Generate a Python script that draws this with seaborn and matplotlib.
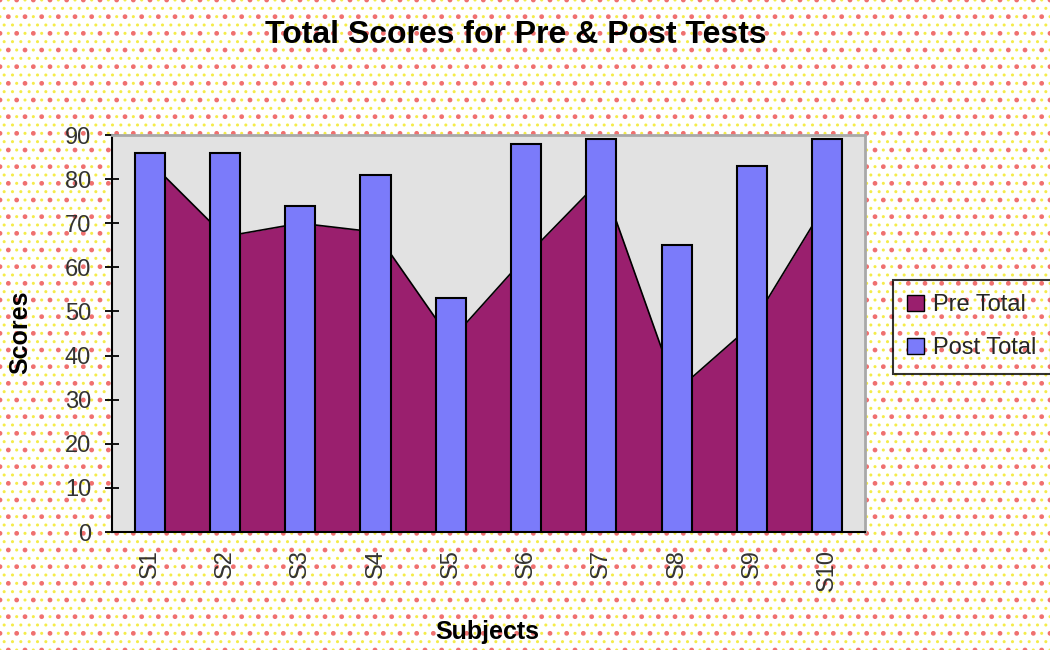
import numpy as np
import pandas as pd
import matplotlib
matplotlib.use('Agg')
import matplotlib.pyplot as plt
import seaborn as sns
from matplotlib.patches import Patch, Rectangle

subjects = ['S1', 'S2', 'S3', 'S4', 'S5', 'S6', 'S7', 'S8', 'S9', 'S10']
pre_total = [84, 67, 70, 68, 43.5, 62.5, 80, 32, 47, 75]
post_total = [86, 86, 74, 81, 53, 88, 89, 65, 83, 89]
y_ticks = [0, 10, 20, 30, 40, 50, 60, 70, 80, 90]

sns.set_theme(style='white')
plt.rcParams['font.family'] = ['Liberation Sans', 'DejaVu Sans']
plt.rcParams['hatch.linewidth'] = 1.0

fig = plt.figure(figsize=(10.5, 6.5), dpi=100)
fig.patch.set_facecolor('white')
fig.patch.set_hatch('..')
fig.patch.set_edgecolor('#f4ec4a')
fig.patches.append(Rectangle((0, 0), 1, 1, transform=fig.transFigure,
                             facecolor='none', edgecolor='#f07070',
                             hatch='.', linewidth=0, zorder=-5))

ax = fig.add_axes([0.1067, 0.1815, 0.717, 0.6108])
ax.set_zorder(1)
ax.set_facecolor('#e2e2e2')

df = pd.DataFrame({'Subject': subjects, 'Post Total': post_total})
sns.barplot(data=df, x='Subject', y='Post Total', ax=ax, color='#7b7bfa',
            saturation=1, width=0.4, edgecolor='black', linewidth=1.5, zorder=4)

x = np.arange(len(subjects))
ax.fill_between(x, pre_total, color='#9a1f6e', zorder=2, linewidth=0)
sns.lineplot(x=x, y=pre_total, ax=ax, color='black', linewidth=1.2, zorder=3)

ax.set_xlim(-0.5, len(subjects) - 0.5)
ax.set_ylim(0, 90)
ax.set_xticks(np.arange(-0.5, len(subjects), 1))
ax.set_xticklabels([])
ax.set_xticks(x, minor=True)
ax.set_xticklabels(subjects, minor=True, rotation=90, fontsize=17, color='#333333')
ax.tick_params(axis='x', which='minor', length=0, pad=12)
ax.tick_params(axis='x', which='major', direction='inout', length=10, width=1.3, color='black')
ax.set_yticks(y_ticks)
ax.set_yticklabels([str(v) for v in y_ticks], fontsize=17, color='#333333')
ax.tick_params(axis='y', direction='inout', length=10, width=1.3, color='black', pad=10, left=True)

ax.set_xlabel('')
ax.set_ylabel('')
for side in ['left', 'bottom']:
    ax.spines[side].set_color('black')
    ax.spines[side].set_linewidth(1.5)
for side in ['top', 'right']:
    ax.spines[side].set_color('#a8a8a8')
    ax.spines[side].set_linewidth(2)
ax.grid(False)

fig.text(516 / 1050, 1 - 35 / 650, 'Total Scores for Pre & Post Tests',
         ha='center', va='center', fontsize=23, fontweight='bold', color='black')
fig.text(487 / 1050, 1 - 632 / 650, 'Subjects', ha='center', va='center',
         fontsize=18, fontweight='bold', color='black')
fig.text(20 / 1050, 1 - 332 / 650, 'Scores', ha='center', va='center',
         rotation=90, fontsize=18, fontweight='bold', color='black')

handles = [Patch(facecolor='#9a1f6e', edgecolor='black', label='Pre Total'),
           Patch(facecolor='#7b7bfa', edgecolor='black', label='Post Total')]
leg = fig.legend(handles=handles, loc='upper left',
                 bbox_to_anchor=(893 / 1050, 1 - 280 / 650), frameon=True,
                 fontsize=17, handlelength=0.7, handleheight=0.7,
                 handletextpad=0.4, labelspacing=0.9, borderpad=0.6,
                 fancybox=False, borderaxespad=0)
leg.get_frame().set_edgecolor('black')
leg.get_frame().set_linewidth(1.5)
leg.get_frame().set_facecolor('none')

fig.savefig('out.png', dpi=100, facecolor=fig.get_facecolor())
